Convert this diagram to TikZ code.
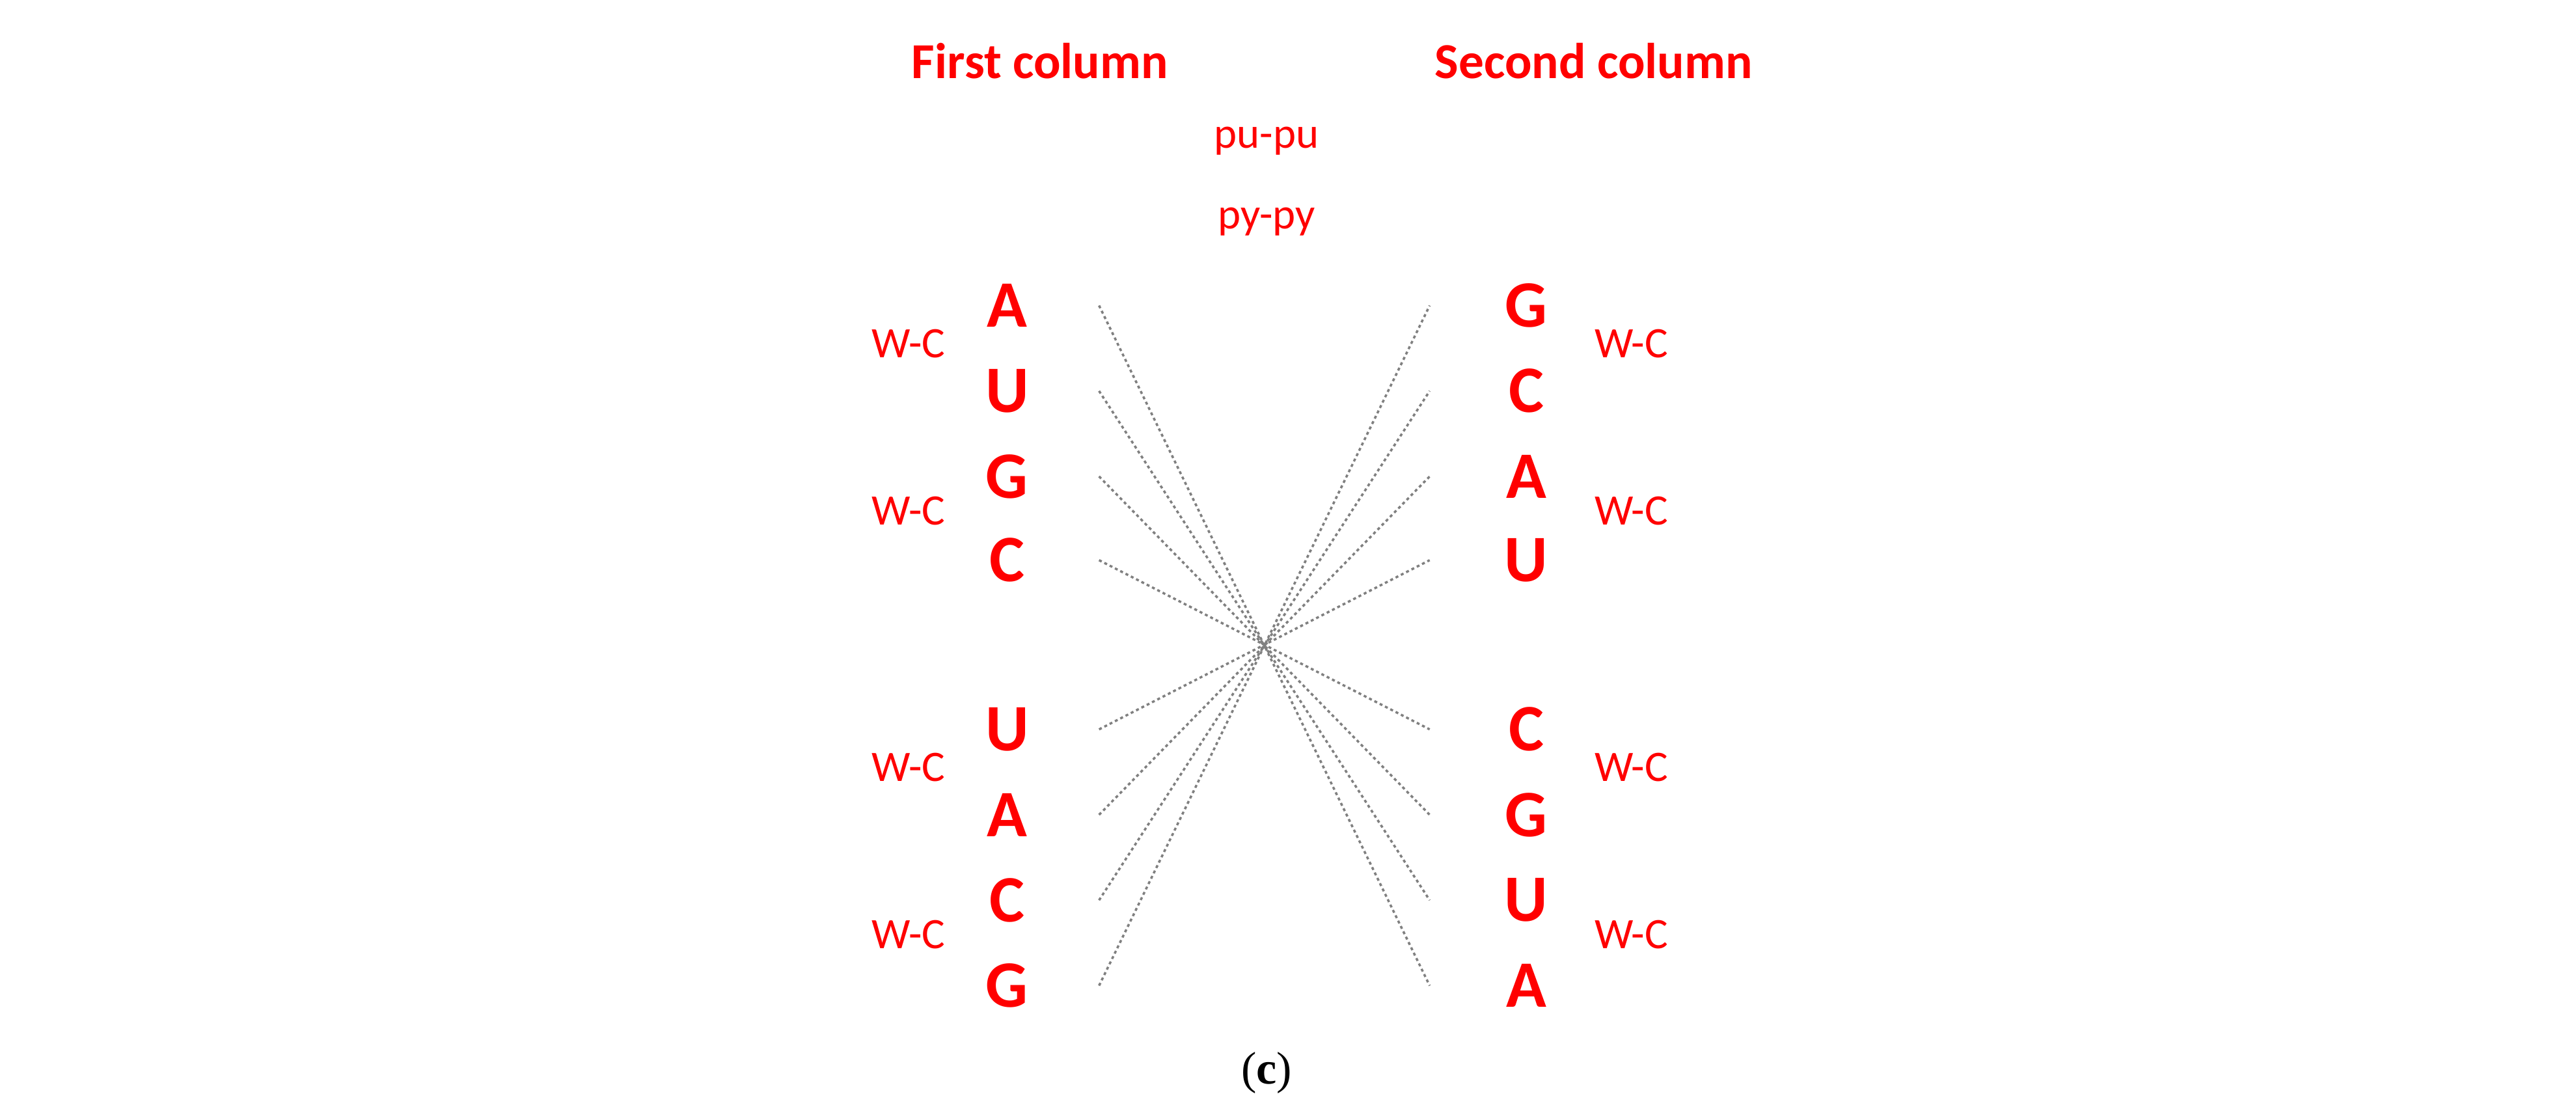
\documentclass[tikz,border=0pt]{standalone}
\usepackage{fontspec}
\setmainfont{Carlito}
\newfontfamily\serifcap{Liberation Serif}
\begin{document}
\begin{tikzpicture}[x=0.02524cm, y=-0.02524cm]
                \tikzstyle{title} = [text=red, font=\fontsize{22}{26}\selectfont\bfseries]
                \tikzstyle{base} = [text=red, font=\fontsize{29}{34}\selectfont\bfseries, inner sep=0pt, minimum height=40]
                \tikzstyle{leftbase} = [base, minimum width=80]
                \tikzstyle{rightbase} = [base, minimum width=84]
                \tikzstyle{pair} = [text=red, font=\fontsize{19}{23}\selectfont]
                \tikzstyle{link} = [gray, line width=1pt, dash pattern=on 1.3pt off 1.3pt]
                \useasboundingbox (0,0) rectangle (1568,681.5);

                \node (first) [title] at (633,37) {First column};
                \node (second) [title] at (970,37) {Second column};
                \node (pupu) [pair] at (771,86) {pu-pu};
                \node (pypy) [pair] at (771,135) {py-py};

                % first column
                \foreach \b/\y [count=\i] in {A/186,U/238,G/290,C/341,U/444,A/496,C/548,G/600}
                    \node (l\i) [leftbase] at (613,\y) {\b};
                % second column
                \foreach \b/\y [count=\i] in {G/186,C/238,A/290,U/341,C/444,G/496,U/548,A/600}
                    \node (r\i) [rightbase] at (929,\y) {\b};

                \foreach \y [count=\i] in {209,311,467,569} {
                    \node (wl\i) [pair] at (553,\y) {W-C};
                    \node (wr\i) [pair] at (993,\y) {W-C};
                }

                \node (caption) at (771,653) {\fontsize{20}{24}\selectfont\serifcap (\textbf{c})};

                \foreach \a/\b in {1/8,2/7,3/6,4/5,5/4,6/3,7/2,8/1}
                    \draw [link] (l\a.east) -- (r\b.west);
            \end{tikzpicture}
\end{document}
